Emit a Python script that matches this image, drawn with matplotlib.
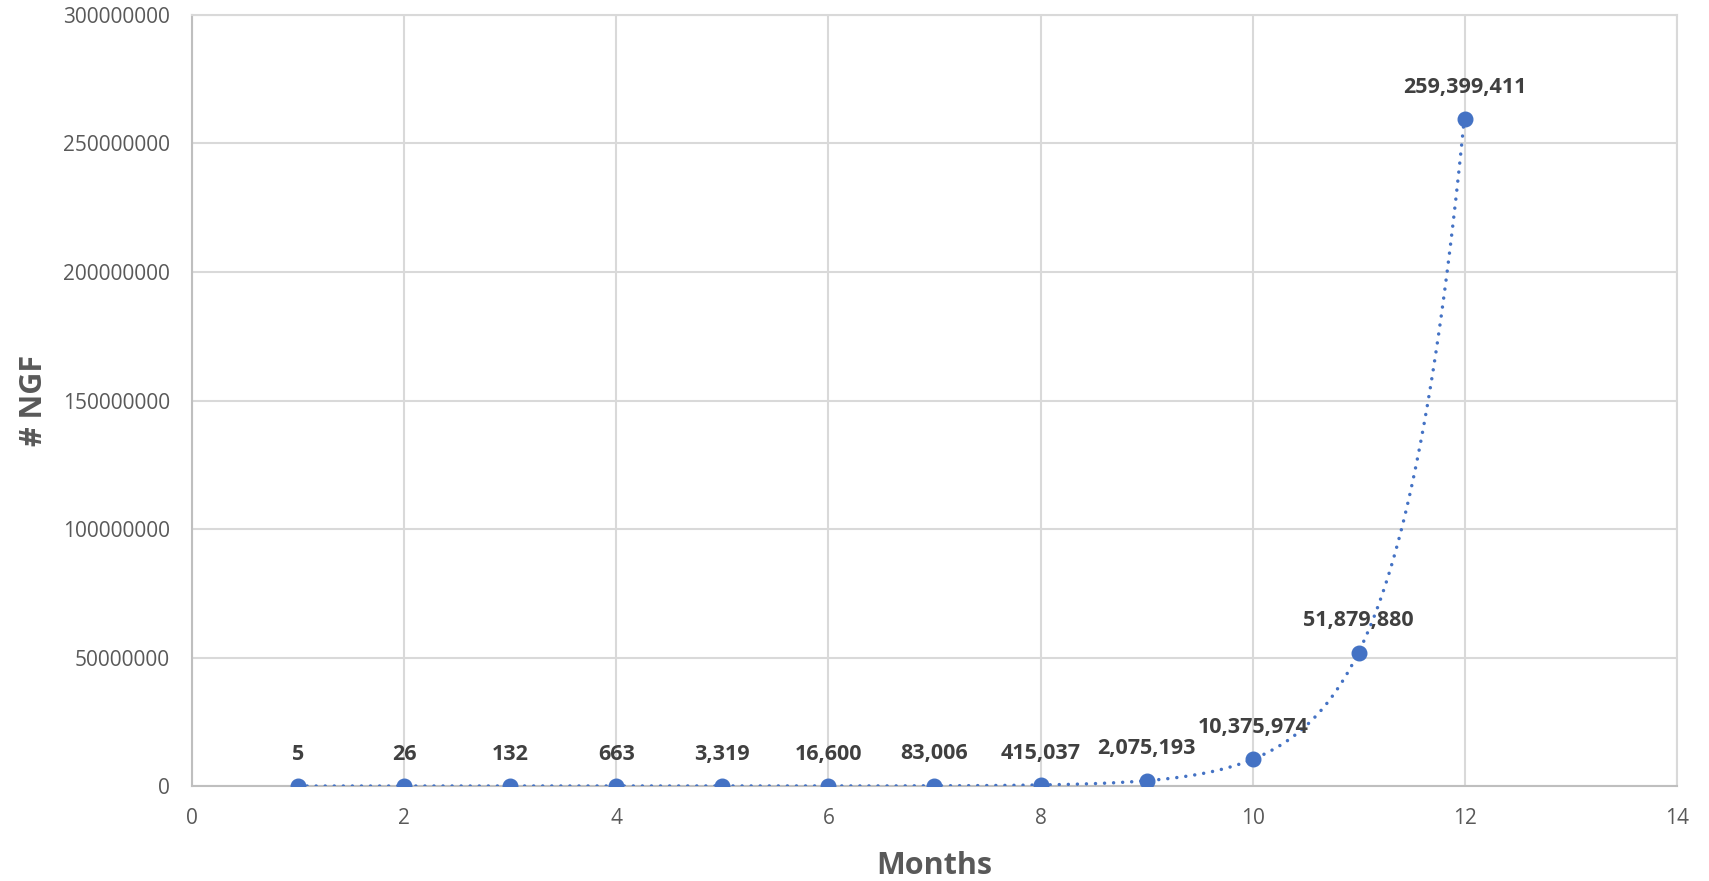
import numpy as np
import matplotlib
matplotlib.use("Agg")
import matplotlib.pyplot as plt

months = [1, 2, 3, 4, 5, 6, 7, 8, 9, 10, 11, 12]
ngf = [5, 26, 132, 663, 3319, 16600, 83006, 415037, 2075193,
       10375974, 51879880, 259399411]
x_ticks = [0, 2, 4, 6, 8, 10, 12, 14]
y_ticks = [0, 50000000, 100000000, 150000000, 200000000, 250000000, 300000000]

BLUE = "#4472C4"
GRID = "#d9d9d9"
TEXT = "#595959"
LABEL = "#404040"
FONT = ["Open Sans", "DejaVu Sans"]

plt.rcParams["font.family"] = FONT

fig = plt.figure(figsize=(17.09, 8.81), dpi=100)
ax = fig.add_axes([0.1123, 0.1078, 0.8690, 0.8752])

# Exponential trendline: least-squares fit of ln(y) against month
b, ln_a = np.polyfit(months, np.log(ngf), 1)
tx = np.linspace(min(months), max(months), 400)
ty = np.exp(ln_a + b * tx)
ax.plot(tx, ty, color=BLUE, linewidth=2.5, linestyle=(0, (0.01, 2.6)),
        dash_capstyle="round", zorder=3)

# Data points
ax.plot(months, ngf, linestyle="none", marker="o", markersize=10.5,
        color=BLUE, zorder=4)

for xv, yv in zip(months, ngf):
    ax.annotate(f"{yv:,}", (xv, yv), xytext=(0, 23), textcoords="offset points",
                ha="center", va="center", fontsize=15.5, fontweight="bold",
                color=LABEL, zorder=5)

ax.set_xlim(0, 14)
ax.set_ylim(0, 300000000)
ax.set_xticks(x_ticks)
ax.set_yticks(y_ticks)
ax.set_xticklabels([str(v) for v in x_ticks])
ax.set_yticklabels([str(v) for v in y_ticks])
ax.tick_params(axis="both", length=0, labelsize=15, labelcolor=TEXT)
ax.tick_params(axis="y", pad=16)
ax.tick_params(axis="x", pad=16)

ax.grid(True, color=GRID, linewidth=1.5)
ax.set_axisbelow(True)
for side in ["top", "right"]:
    ax.spines[side].set_color(GRID)
    ax.spines[side].set_linewidth(1.5)
for side in ["left", "bottom"]:
    ax.spines[side].set_color("#bfbfbf")
    ax.spines[side].set_linewidth(1.5)

ax.set_xlabel("Months", fontsize=22, fontweight="bold", color=TEXT, labelpad=16)
ax.set_ylabel("# NGF", fontsize=22, fontweight="bold", color=TEXT, labelpad=10)

fig.savefig("out.png", dpi=100, facecolor="white")
